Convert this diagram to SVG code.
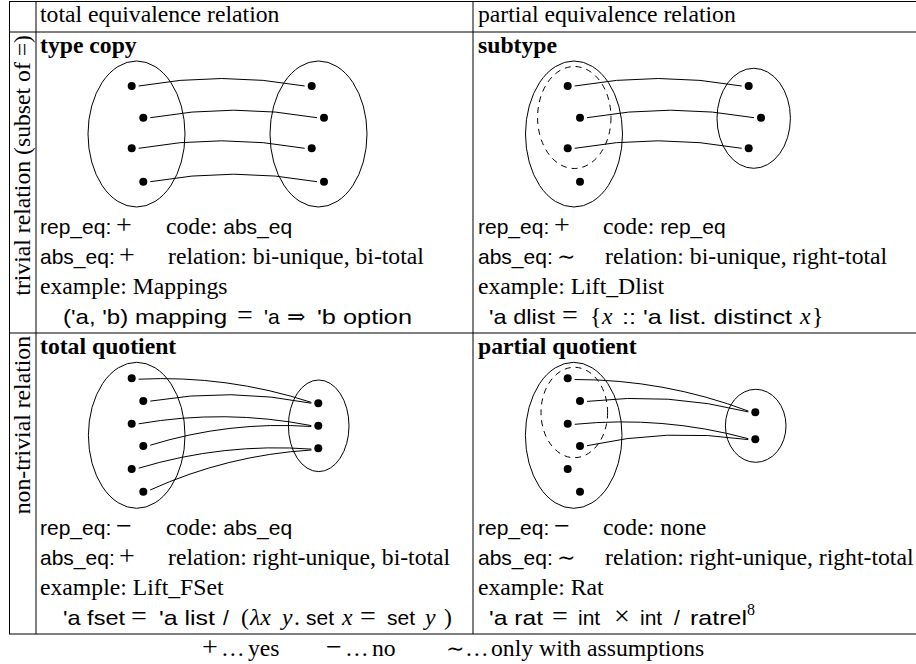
<svg xmlns="http://www.w3.org/2000/svg" width="916" height="664" viewBox="0 0 916 664">
<style>
text{font-family:"Liberation Serif","Times New Roman",serif;font-size:23.7px;fill:#000}
.b{font-weight:bold}
.ss{font-family:"Liberation Sans",Arial,sans-serif;font-size:21px}
.m{font-family:"Liberation Serif","DejaVu Serif",serif;font-size:28px}
.t{font-family:"DejaVu Serif",serif;font-size:22px}
.i{font-style:italic}
.grid line{stroke:#000;stroke-width:1}
.set{fill:none;stroke:#000;stroke-width:1}
.dash{fill:none;stroke:#000;stroke-width:1;stroke-dasharray:6 5}
.dot{fill:#000}
.conn path{fill:none;stroke:#000;stroke-width:1}
</style>

<g id="table">
<g class="grid">
<line x1="9" y1="1.5" x2="916" y2="1.5"/>
<line x1="9" y1="32" x2="916" y2="32"/>
<line x1="9" y1="333" x2="916" y2="333"/>
<line x1="9" y1="634" x2="916" y2="634"/>
<line x1="9.5" y1="1.5" x2="9.5" y2="634"/>
<line x1="36" y1="1.5" x2="36" y2="634"/>
<line x1="473" y1="1.5" x2="473" y2="634"/>
</g>
<text x="40" y="22">total equivalence relation</text>
<text x="478" y="22">partial equivalence relation</text>
<text transform="translate(30,35) rotate(-90)" text-anchor="end">trivial relation (subset of =)</text>
<text transform="translate(30,336) rotate(-90)" text-anchor="end">non-trivial relation</text>
</g>

<!-- type copy -->
<g id="type-copy">
<text class="b" x="40" y="53">type copy</text>
<ellipse class="set" cx="136.5" cy="134" rx="48.5" ry="73"/>
<ellipse class="set" cx="318.5" cy="134" rx="48.5" ry="73"/>
<circle class="dot" cx="131.7" cy="86" r="4"/>
<circle class="dot" cx="143.3" cy="117.7" r="4"/>
<circle class="dot" cx="131.7" cy="148.3" r="4"/>
<circle class="dot" cx="143.3" cy="181.7" r="4"/>
<circle class="dot" cx="311.7" cy="86" r="4"/>
<circle class="dot" cx="324" cy="117.7" r="4"/>
<circle class="dot" cx="311.7" cy="148.3" r="4"/>
<circle class="dot" cx="324" cy="181.7" r="4"/>
<text y="234"><tspan class="ss" x="40">rep_eq:</tspan><tspan class="m" x="116">+</tspan><tspan x="166">code: </tspan><tspan class="ss">abs_eq</tspan></text>
<text y="264"><tspan class="ss" x="40">abs_eq:</tspan><tspan class="m" x="119">+</tspan><tspan x="168">relation: bi-unique, bi-total</tspan></text>
<text x="40" y="294">example: Mappings</text>
<text y="324"><tspan class="ss" x="63" textLength="164" lengthAdjust="spacingAndGlyphs">('a, 'b) mapping</tspan><tspan class="m" x="237">=</tspan><tspan class="ss" x="264">'a</tspan><tspan class="t" x="287">⇒</tspan><tspan class="ss" x="317" textLength="95" lengthAdjust="spacingAndGlyphs">'b option</tspan></text>
</g>

<!-- subtype -->
<g id="subtype">
<text class="b" x="478" y="53">subtype</text>
<ellipse class="set" cx="574" cy="134" rx="48.5" ry="73"/>
<ellipse class="dash" cx="574.3" cy="117.5" rx="36.7" ry="51"/>
<ellipse class="set" cx="753.7" cy="118.3" rx="36.7" ry="50"/>
<circle class="dot" cx="567.7" cy="86" r="4"/>
<circle class="dot" cx="580" cy="117.7" r="4"/>
<circle class="dot" cx="567.7" cy="148.3" r="4"/>
<circle class="dot" cx="580" cy="181.7" r="4"/>
<circle class="dot" cx="748.7" cy="86" r="4"/>
<circle class="dot" cx="761" cy="117.7" r="4"/>
<circle class="dot" cx="748.7" cy="148.3" r="4"/>
<text y="234"><tspan class="ss" x="478">rep_eq:</tspan><tspan class="m" x="554">+</tspan><tspan x="603">code: </tspan><tspan class="ss">rep_eq</tspan></text>
<text y="264"><tspan class="ss" x="478">abs_eq:</tspan><tspan class="t" x="557">∼</tspan><tspan x="605">relation: bi-unique, right-total</tspan></text>
<text x="478" y="294">example: Lift_Dlist</text>
<text y="324"><tspan class="ss" x="489" textLength="66" lengthAdjust="spacingAndGlyphs">'a dlist</tspan><tspan class="m" x="562">=</tspan><tspan x="590">{</tspan><tspan class="i" x="602">x</tspan><tspan class="ss" x="622" textLength="170" lengthAdjust="spacingAndGlyphs">:: 'a list. distinct</tspan><tspan class="i" x="800">x</tspan><tspan x="812">}</tspan></text>
</g>

<!-- total quotient -->
<g id="total-quotient">
<text class="b" x="40" y="354">total quotient</text>
<ellipse class="set" cx="136.7" cy="435.3" rx="48.3" ry="73"/>
<ellipse class="set" cx="318.7" cy="425.8" rx="30.3" ry="45.8"/>
<circle class="dot" cx="131.7" cy="378.3" r="4"/>
<circle class="dot" cx="143.3" cy="401" r="4"/>
<circle class="dot" cx="131.7" cy="423.7" r="4"/>
<circle class="dot" cx="143.3" cy="446" r="4"/>
<circle class="dot" cx="131.7" cy="469" r="4"/>
<circle class="dot" cx="143.3" cy="491.7" r="4"/>
<circle class="dot" cx="318.3" cy="403.3" r="4"/>
<circle class="dot" cx="318.3" cy="425.7" r="4"/>
<circle class="dot" cx="318.3" cy="448.3" r="4"/>
<text y="535"><tspan class="ss" x="40">rep_eq:</tspan><tspan class="m" x="116">−</tspan><tspan x="166">code: </tspan><tspan class="ss">abs_eq</tspan></text>
<text y="565"><tspan class="ss" x="40">abs_eq:</tspan><tspan class="m" x="119">+</tspan><tspan x="168">relation: right-unique, bi-total</tspan></text>
<text x="40" y="595">example: Lift_FSet</text>
<text y="625"><tspan class="ss" x="63" textLength="62" lengthAdjust="spacingAndGlyphs">'a fset</tspan><tspan class="m" x="131">=</tspan><tspan class="ss" x="159" textLength="56" lengthAdjust="spacingAndGlyphs">'a list</tspan><tspan class="ss" x="223">/</tspan><tspan x="241">(</tspan><tspan class="i" x="250">λx</tspan><tspan class="i" x="282">y</tspan><tspan x="294">.</tspan><tspan class="ss" x="306">set</tspan><tspan class="i" x="342">x</tspan><tspan class="m" x="360">=</tspan><tspan class="ss" x="387">set</tspan><tspan class="i" x="425">y</tspan><tspan x="444">)</tspan></text>
</g>

<!-- partial quotient -->
<g id="partial-quotient">
<text class="b" x="478" y="354">partial quotient</text>
<ellipse class="set" cx="573.7" cy="435.3" rx="48.3" ry="73"/>
<ellipse class="dash" cx="574.3" cy="412.5" rx="33.3" ry="45.2"/>
<ellipse class="set" cx="755.7" cy="425.8" rx="30.3" ry="36.5"/>
<circle class="dot" cx="567.7" cy="378.3" r="4"/>
<circle class="dot" cx="580" cy="401" r="4"/>
<circle class="dot" cx="567.7" cy="423.7" r="4"/>
<circle class="dot" cx="580" cy="446" r="4"/>
<circle class="dot" cx="567.7" cy="469" r="4"/>
<circle class="dot" cx="580" cy="491.7" r="4"/>
<circle class="dot" cx="755.3" cy="412.3" r="4"/>
<circle class="dot" cx="755.3" cy="439.3" r="4"/>
<text y="535"><tspan class="ss" x="478">rep_eq:</tspan><tspan class="m" x="554">−</tspan><tspan x="603">code: none</tspan></text>
<text y="565"><tspan class="ss" x="478">abs_eq:</tspan><tspan class="t" x="557">∼</tspan><tspan x="605">relation: right-unique, right-total</tspan></text>
<text x="478" y="595">example: Rat</text>
<text y="625"><tspan class="ss" x="489" textLength="54" lengthAdjust="spacingAndGlyphs">'a rat</tspan><tspan class="m" x="552">=</tspan><tspan class="ss" x="578">int</tspan><tspan class="m" x="614">×</tspan><tspan class="ss" x="640">int</tspan><tspan class="ss" x="674">/</tspan><tspan class="ss" x="690" textLength="57" lengthAdjust="spacingAndGlyphs">ratrel</tspan><tspan font-size="16" dy="-10">8</tspan></text>
</g>

<g id="connectors" class="conn">
<path d="M138.7 86 Q221.7 71 304.7 86"/>
<path d="M150.3 117.7 Q233.7 102.7 317 117.7"/>
<path d="M138.7 148.3 Q221.7 133.3 304.7 148.3"/>
<path d="M150.3 181.7 Q233.7 166.7 317 181.7"/>
<path d="M574.7 86 Q658.2 71 741.7 86"/>
<path d="M587 117.7 Q670.5 102.7 754 117.7"/>
<path d="M574.7 148.3 Q658.2 133.3 741.7 148.3"/>
<path d="M138.6 379.2 Q227.1 374.9 311.4 402.4"/>
<path d="M150.3 401.1 Q231 387.3 311.3 403.2"/>
<path d="M138.7 423.8 Q225.2 408.8 311.3 425.6"/>
<path d="M150.3 445.2 Q229.1 420.9 311.3 426.5"/>
<path d="M138.7 468.2 Q223.2 442.7 311.3 449.1"/>
<path d="M150.1 490 Q227.1 455.1 311.5 450"/>
<path d="M574.6 379.5 Q664.4 379.4 748.4 411.1"/>
<path d="M587 401.4 Q668.6 391.8 748.3 411.9"/>
<path d="M574.7 424.3 Q662.8 415.5 748.3 438.7"/>
<path d="M587 445.7 Q667.1 427.8 748.3 439.6"/>
</g>

<g id="legend">
<text y="656"><tspan class="m" x="202">+</tspan><tspan x="221">…</tspan><tspan x="248">yes</tspan><tspan class="m" x="326">−</tspan><tspan x="345">…</tspan><tspan x="372">no</tspan><tspan class="t" x="446">∼</tspan><tspan x="465">…</tspan><tspan x="491">only with assumptions</tspan></text>
</g>
</svg>
